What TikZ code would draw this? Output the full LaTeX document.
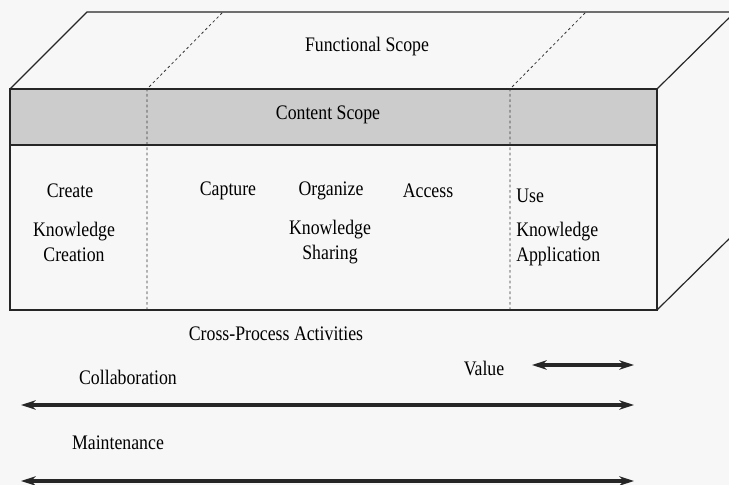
\documentclass[tikz,border=0pt]{standalone}
\usepackage{fontspec}
\setmainfont{Liberation Serif}[FakeStretch=0.86]
\usetikzlibrary{arrows.meta}
\begin{document}
\begin{tikzpicture}[x=0.75pt,y=-0.75pt,
  edge/.style={draw=black!85,line width=0.9pt},
  sep/.style={draw=black!80,dashed,dash pattern=on 2pt off 2pt,line width=0.6pt},
  lbl/.style={font=\fontsize{15.5}{19}\selectfont,inner sep=0pt,text=black},
  llbl/.style={lbl,align=center},
  dbl/.style={{Stealth[length=11pt,width=7pt]}-{Stealth[length=11pt,width=7pt]},line width=2.6pt,draw=black!85}]
\fill[black!3] (0,0) rectangle (729,485);
\useasboundingbox (0,0) rectangle (729,485);
\begin{scope}
\clip (0,0) rectangle (729,485);
\coordinate (ftl) at (10,89);
\coordinate (ftr) at (657,89);
\coordinate (fbl) at (10,310);
\coordinate (fbr) at (657,310);
\coordinate (btl) at (87,12);
\coordinate (btr) at (735,12);
\coordinate (bbr) at (735,233);
\coordinate (bl) at (10,145);
\coordinate (br) at (657,145);
\coordinate (d1b) at (147,310);
\coordinate (d1t) at (147,89);
\coordinate (d1k) at (223,12);
\coordinate (d2b) at (510,310);
\coordinate (d2t) at (510,89);
\coordinate (d2k) at (586,12);
\fill[black!20] (ftl) rectangle (br);
\draw[edge] (ftl) rectangle (fbr);
\draw[edge] (bl) -- (br);
\draw[edge] (ftl) -- (btl) -- (btr);
\draw[edge] (ftr) -- (btr);
\draw[edge] (fbr) -- (bbr);
\draw[sep] (d1b) -- (d1t) -- (d1k);
\draw[sep] (d2b) -- (d2t) -- (d2k);
\end{scope}
\node[lbl] (fs) at (367,47) {Functional Scope};
\node[lbl] (cs) at (328,115) {Content Scope};
\node[lbl] (create) at (70,191) {Create};
\node[llbl] (kc) at (74,242) {Knowledge\\Creation};
\node[lbl] (capture) at (228,191) {Capture};
\node[lbl] (organize) at (331,191) {Organize};
\node[lbl] (access) at (428,191) {Access};
\node[llbl] (ks) at (330,242) {Knowledge\\Sharing};
\node[lbl,anchor=west] (use) at (516,196) {Use};
\node[lbl,anchor=west,align=left] (ka) at (516,244) {Knowledge\\Application};
\node[lbl] (cpa) at (276,334) {Cross-Process Activities};
\node[lbl] (value) at (484,368) {Value};
\node[lbl] (collab) at (128,377) {Collaboration};
\node[lbl] (maint) at (118,443) {Maintenance};
\coordinate (va) at (532,365);
\coordinate (vb) at (634,365);
\coordinate (ca) at (21,405);
\coordinate (cb) at (634,405);
\coordinate (ma) at (21,481);
\coordinate (mb) at (634,481);
\draw[dbl] (va) -- (vb);
\draw[dbl] (ca) -- (cb);
\draw[dbl] (ma) -- (mb);
\end{tikzpicture}
\end{document}
